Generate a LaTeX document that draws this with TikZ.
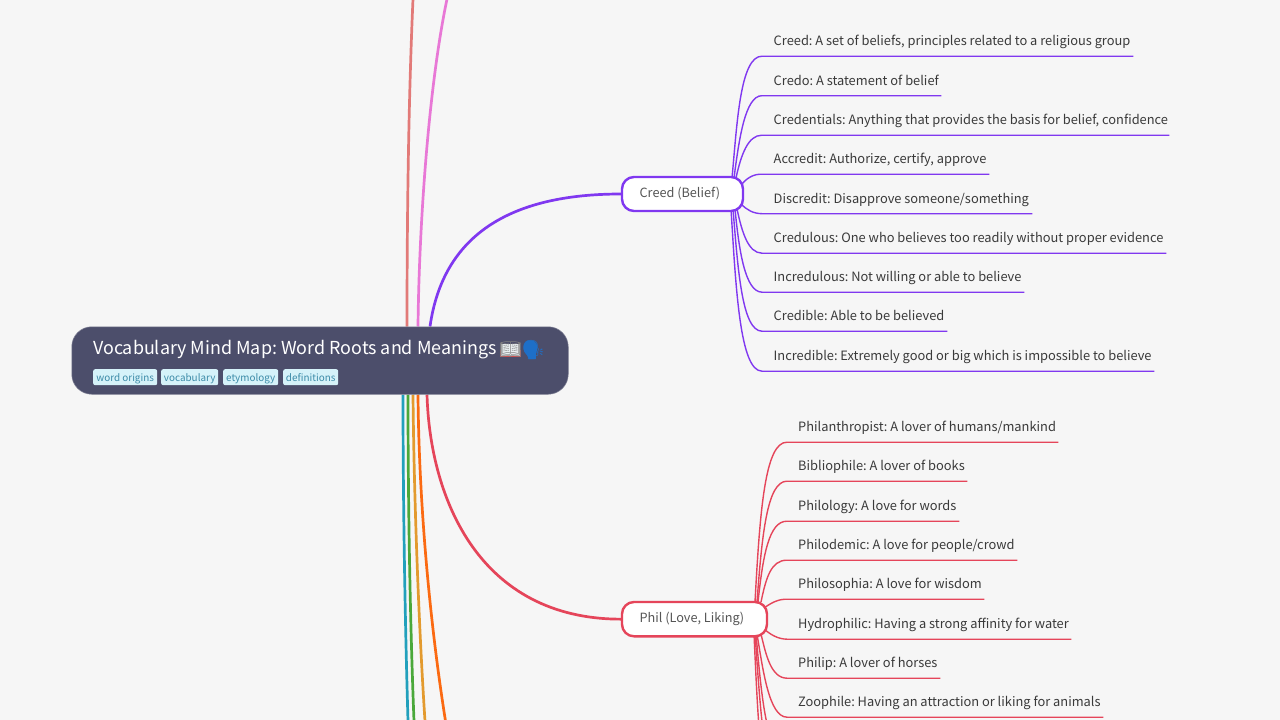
\documentclass[tikz,border=0pt]{standalone}
\usepackage{fontspec}
\setmainfont{Noto Sans CJK SC}
\newfontfamily\emojifont{Noto Emoji}
\usetikzlibrary{backgrounds}
\frenchspacing
\definecolor{pagebg}{HTML}{F6F6F6}
\definecolor{rootfill}{HTML}{4C4E6B}
\definecolor{tagfill}{HTML}{D5F2F9}
\definecolor{tagtext}{HTML}{3C8BA8}
\definecolor{txt}{HTML}{3A3A3A}
\definecolor{subtxt}{HTML}{555555}
\definecolor{cpurple}{HTML}{8038F0}
\definecolor{cred}{HTML}{E5455A}
\definecolor{csalmon}{HTML}{E27A78}
\definecolor{cpink}{HTML}{E878D6}
\definecolor{cteal}{HTML}{22A0BC}
\definecolor{cgreen}{HTML}{4AA83A}
\definecolor{camber}{HTML}{E39A2E}
\definecolor{corange}{HTML}{FB6A12}
\definecolor{cblue}{HTML}{1E6FC8}
\definecolor{bookred}{HTML}{D05050}
\definecolor{bookpage}{HTML}{E8EEF0}
\tikzset{
  x=1pt,y=-1pt,
  rootbox/.style={fill=rootfill,draw=rootfill!70!white,line width=0.5pt,rounded corners=20pt,minimum width=496.5pt,minimum height=67.5pt,inner sep=0pt,anchor=north west},
  tagbox/.style={fill=tagfill,rounded corners=2pt,text=tagtext,font=\fontsize{9.9}{12}\selectfont,inner sep=0pt,minimum height=16pt,anchor=north west,text height=10.5pt,text depth=1.5pt},
  subbox/.style={fill=white,line width=2.4pt,rounded corners=12pt,text=subtxt,font=\fontsize{12.7}{16}\selectfont,inner sep=0pt,anchor=north west},
  leaf/.style={text=txt,font=\fontsize{12.85}{16}\selectfont,inner sep=0pt,anchor=west,text height=10.8pt,text depth=10.2pt},
  branch/.style={line width=2.7pt},
  twig/.style={line width=1.4pt},
}
% \leafnode{name}{text x}{underline y}{underline end x}{text}
\newcommand{\leafnode}[5]{\pgfmathsetlengthmacro{\lw}{#4-#2-1}\node[leaf] (#1) at (#2,#3-10.5) {\makebox[\lw][l]{#5}};}
% \twigline{parent start}{ctrl1}{ctrl2}{leaf}{start x of underline}
\newcommand{\twigline}[5]{\draw[twig] #1 .. controls #2 and #3 .. ([xshift=#5]#4.south west) -- ([xshift=1pt]#4.south east);}
\begin{document}
\begin{tikzpicture}
\useasboundingbox (0,0) rectangle (1280,720);
\clip (0,0) rectangle (1280,720);
% root
\node[rootbox] (root) at (71.5,326.5) {};
\node[text=white,font=\fontsize{17.9}{24}\selectfont,anchor=base west,inner sep=0pt] (title) at (93,354.3) {Vocabulary Mind Map: Word Roots and Meanings};
% coloured backing of the two emoji
\fill[bookpage] (501,343.5) rectangle (519.5,356);
\draw[bookred,line width=0.9pt] (500.5,350) -- (500.5,356.8) -- (520,356.8) -- (520,350);
\fill[cblue] (530,340.3) .. controls (537,340.3) and (538,346) .. (537,350) .. controls (536.5,352) and (535.5,353) .. (536,359) -- (529,359) .. controls (528,356) and (526,354) .. (524.5,352) .. controls (522.5,348) and (523,340.3) .. (530,340.3) -- cycle;
\node[font=\fontsize{18}{20}\selectfont\emojifont,text=gray,anchor=base west,inner sep=0pt] (book) at (499,355) {📖};
\node[font=\fontsize{19}{20}\selectfont\emojifont,text=cblue,anchor=base west,inner sep=0pt] (head) at (521,356) {🗣};
\node[tagbox,minimum width=64pt] (t1) at (93,369) {word origins};
\node[tagbox,minimum width=57pt] (t2) at (161,369) {vocabulary};
\node[tagbox,minimum width=55pt] (t3) at (223,369) {etymology};
\node[tagbox,minimum width=55pt] (t4) at (283,369) {definitions};
% sub topics
\node[subbox,draw=cpurple,minimum height=34pt] (creed) at (620.8,175.8) {\makebox[121pt][l]{\hspace{17.6pt}\raisebox{1.5pt}{Creed (Belief)}}};
\node[subbox,draw=cred,minimum height=34.3pt] (phil) at (620.8,600.8) {\makebox[145pt][l]{\hspace{17.6pt}\raisebox{1.5pt}{Phil (Love, Liking)}}};
% creed leaves
\leafnode{a1}{773.5}{56}{1133}{Creed: A set of beliefs, principles related to a religious group}
\leafnode{a2}{773.5}{95.5}{941}{Credo: A statement of belief}
\leafnode{a3}{773.5}{135}{1169}{Credentials: Anything that provides the basis for belief, confidence}
\leafnode{a4}{773.5}{174}{989}{Accredit: Authorize, certify, approve}
\leafnode{a5}{773.5}{213.5}{1032}{Discredit: Disapprove someone/something}
\leafnode{a6}{773.5}{253}{1166}{Credulous: One who believes too readily without proper evidence}
\leafnode{a7}{773.5}{292}{1024}{Incredulous: Not willing or able to believe}
\leafnode{a8}{773.5}{331}{947}{Credible: Able to be believed}
\leafnode{a9}{773.5}{371}{1154}{Incredible: Extremely good or big which is impossible to believe}
% phil leaves
\leafnode{b1}{798}{442}{1058}{Philanthropist: A lover of humans/mankind}
\leafnode{b2}{798}{481}{967}{Bibliophile: A lover of books}
\leafnode{b3}{798}{521}{959}{Philology: A love for words}
\leafnode{b4}{798}{560}{1017}{Philodemic: A love for people/crowd}
\leafnode{b5}{798}{599}{984}{Philosophia: A love for wisdom}
\leafnode{b6}{798}{639}{1071}{Hydrophilic: Having a strong affinity for water}
\leafnode{b7}{798}{678}{940}{Philip: A lover of horses}
\leafnode{b8}{798}{717}{1103}{Zoophile: Having an attraction or liking for animals}
\coordinate (o1) at (787,757);
\coordinate (o2) at (787,796);
\coordinate (o3) at (787,835);
\coordinate (r1) at (413,-1);
\coordinate (r2) at (447,-1);
\coordinate (r3) at (408,721);
\coordinate (r4) at (414,721);
\coordinate (r5) at (425,721);
\coordinate (r6) at (445.5,721);
\begin{pgfonlayer}{background}
\fill[pagebg] (0,0) rectangle (1280,720);
\draw[branch,csalmon] ([xshift=335.5pt]root.north west) .. controls (407,200) and (409,90) .. (r1);
\draw[branch,cpink] ([xshift=346.5pt]root.north west) .. controls (419,230) and (428,90) .. (r2);
\draw[branch,cpurple] ([xshift=358.5pt]root.north west) .. controls (443,235) and (510,194) .. (creed.west);
\draw[branch,cred] ([xshift=355.5pt]root.south west) .. controls (430,500) and (480,619) .. (phil.west);
\draw[branch,cteal] ([xshift=331.5pt]root.south west) .. controls (403,500) and (405,620) .. (r3);
\draw[branch,cgreen] ([xshift=336.5pt]root.south west) .. controls (408,500) and (410,620) .. (r4);
\draw[branch,camber] ([xshift=341.5pt]root.south west) .. controls (414,500) and (419,630) .. (r5);
\draw[branch,corange] ([xshift=346.5pt]root.south west) .. controls (419,510) and (431,630) .. (r6);
\begin{scope}[cpurple]
\twigline{(732,178)}{(737,125)}{(740,56)}{a1}{-11.5pt}
\twigline{(734,178)}{(739,140)}{(745,95.5)}{a2}{-11.5pt}
\twigline{(736,178)}{(741,155)}{(748,135)}{a3}{-11.5pt}
\twigline{(741,185)}{(747,178)}{(753,174)}{a4}{-11.5pt}
\twigline{(741,204)}{(747,210)}{(753,213.5)}{a5}{-11.5pt}
\twigline{(737,209)}{(742,232)}{(748,253)}{a6}{-11.5pt}
\twigline{(735,209)}{(739,250)}{(745,292)}{a7}{-11.5pt}
\twigline{(733,209)}{(738,270)}{(742,331)}{a8}{-11.5pt}
\twigline{(731,209)}{(736,290)}{(740,371)}{a9}{-11.5pt}
\end{scope}
\begin{scope}[cred]
\twigline{(755,602)}{(760,510)}{(765,442)}{b1}{-11pt}
\twigline{(757,602)}{(762,535)}{(767,481)}{b2}{-11pt}
\twigline{(758,602)}{(763,555)}{(769,521)}{b3}{-11pt}
\twigline{(761,602)}{(766,578)}{(771,560)}{b4}{-11pt}
\twigline{(764,608)}{(771,603)}{(778,599)}{b5}{-11pt}
\twigline{(764,629)}{(771,635)}{(778,639)}{b6}{-11pt}
\twigline{(761,634)}{(766,655)}{(771,678)}{b7}{-11pt}
\twigline{(757,634)}{(763,670)}{(769,717)}{b8}{-11pt}
\draw[twig] (756,634) .. controls (761,690) and (766,757) .. (o1);
\draw[twig] (755,634) .. controls (760,700) and (764,796) .. (o2);
\draw[twig] (754,634) .. controls (758,720) and (762,835) .. (o3);
\end{scope}
\end{pgfonlayer}
\end{tikzpicture}
\end{document}
